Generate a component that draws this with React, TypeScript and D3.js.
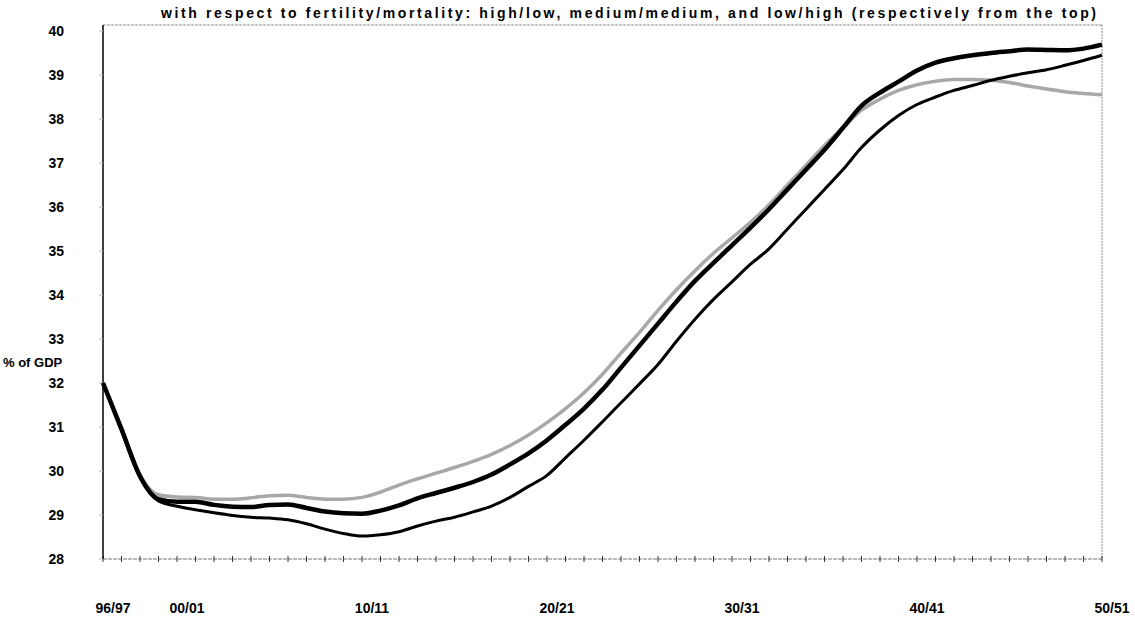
import React from 'react';
import * as d3 from 'd3';

// Fiscal years 96/97 ... 50/51 (start year)
const startYears: number[] = d3.range(1996, 2051);
const xTickYears: number[] = [1996, 2000, 2010, 2020, 2030, 2040, 2050];
const xTickLabels: string[] = ['96/97', '00/01', '10/11', '20/21', '30/31', '40/41', '50/51'];
const yTicks: number[] = [28, 29, 30, 31, 32, 33, 34, 35, 36, 37, 38, 39, 40];

// high fertility / low mortality (grey)
const highLow: number[] = [
  32.0, 30.98, 29.92, 29.46, 29.41, 29.4, 29.36, 29.36, 29.39, 29.44,
  29.45, 29.4, 29.36, 29.36, 29.4, 29.52, 29.68, 29.82, 29.95, 30.08,
  30.22, 30.38, 30.58, 30.82, 31.1, 31.42, 31.78, 32.2, 32.68, 33.15,
  33.65, 34.12, 34.55, 34.95, 35.3, 35.65, 36.05, 36.5, 36.95, 37.4,
  37.8, 38.2, 38.45, 38.65, 38.78, 38.86, 38.9, 38.9, 38.88, 38.83,
  38.75, 38.68, 38.62, 38.58, 38.55,
];

// medium / medium (thick black)
const mediumMedium: number[] = [
  32.0, 30.95, 29.88, 29.36, 29.3, 29.3, 29.23, 29.19, 29.18, 29.23,
  29.24, 29.16, 29.08, 29.04, 29.03, 29.1, 29.22, 29.38, 29.5, 29.62,
  29.75, 29.92, 30.15, 30.4, 30.7, 31.05, 31.42, 31.85, 32.35, 32.85,
  33.35, 33.85, 34.32, 34.73, 35.13, 35.53, 35.95, 36.4, 36.85, 37.3,
  37.8, 38.3, 38.6, 38.85, 39.1, 39.28, 39.38, 39.45, 39.5, 39.54,
  39.58, 39.57, 39.56, 39.6, 39.69,
];

// low fertility / high mortality (black)
const lowHigh: number[] = [
  32.0, 30.92, 29.85, 29.32, 29.2, 29.12, 29.05, 28.99, 28.95, 28.93,
  28.89, 28.8, 28.68, 28.58, 28.52, 28.55, 28.62, 28.75, 28.86, 28.95,
  29.07, 29.2, 29.4, 29.65, 29.9, 30.3, 30.7, 31.12, 31.55, 31.98,
  32.42, 32.95, 33.45, 33.9, 34.3, 34.7, 35.05, 35.5, 35.95, 36.4,
  36.85, 37.35, 37.75, 38.08, 38.33, 38.5, 38.65, 38.76, 38.88, 38.97,
  39.05, 39.12, 39.22, 39.33, 39.45,
];

const title =
  'with respect to  fertility/mortality: high/low, medium/medium, and low/high (respectively from the top)';

const W = 1135;
const H = 626;
const left = 103;
const right = 1102;
const top = 25;
const bottom = 559;

export default function App() {
  const x = d3.scaleLinear().domain([1996, 2050]).range([left, right]);
  const y = d3.scaleLinear().domain([28, 40]).range([bottom, 31]);

  const line = d3
    .line<number>()
    .x((_, i) => x(startYears[i]))
    .y((d) => y(d))
    .curve(d3.curveMonotoneX);

  const font = "'Liberation Sans', Arial, sans-serif";

  return (
    <svg
      width={W}
      height={H}
      style={{ position: 'absolute', left: 0, top: 0, display: 'block', background: '#fff' }}
      fontFamily={font}
    >
      <rect x={0} y={0} width={W} height={H} fill="#fff" />
      {/* title */}
      <text
        x={161}
        y={18}
        fontSize={14}
        fontWeight="bold"
        fill="#000"
        textLength={935}
        lengthAdjust="spacing"
      >
        {title}
      </text>

      {/* frame: top and right dotted */}
      <line x1={left} x2={right} y1={top} y2={top} stroke="#8a8a8a" strokeWidth={1} strokeDasharray="3,1" />
      <line x1={right} x2={right} y1={top} y2={bottom} stroke="#8a8a8a" strokeWidth={1} strokeDasharray="2,1" />

      {/* bottom axis */}
      <line x1={left} x2={right} y1={bottom} y2={bottom} stroke="#777" strokeWidth={1} strokeDasharray="4,1" />
      {startYears.map((yr) => (
        <line key={'xt' + yr} x1={x(yr)} x2={x(yr)} y1={bottom - 3} y2={bottom + 3} stroke="#333" strokeWidth={1} />
      ))}
      {xTickYears.map((yr, i) => (
        <text key={'xl' + yr} x={x(yr) + 10} y={613} textAnchor="middle" fontSize={14} fontWeight="bold" fill="#000">
          {xTickLabels[i]}
        </text>
      ))}

      {/* left axis */}
      <line x1={left} x2={left} y1={top} y2={bottom} stroke="#000" strokeWidth={1.5} />
      {yTicks.map((t) => (
        <g key={'yt' + t}>
          <line x1={left - 4} x2={left} y1={y(t)} y2={y(t)} stroke="#bbb" strokeWidth={1} />
          <text x={64} y={y(t) + 5} textAnchor="end" fontSize={14} fontWeight="bold" fill="#000">
            {t}
          </text>
        </g>
      ))}
      <text x={3} y={367} fontSize={13} fontWeight="bold" fill="#000">
        % of GDP
      </text>

      {/* series */}
      <path d={line(highLow) || ''} fill="none" stroke="#a8a8a8" strokeWidth={3.5} strokeLinejoin="round" />
      <path d={line(lowHigh) || ''} fill="none" stroke="#000" strokeWidth={3} strokeLinejoin="round" />
      <path d={line(mediumMedium) || ''} fill="none" stroke="#000" strokeWidth={4.5} strokeLinejoin="round" />
    </svg>
  );
}
